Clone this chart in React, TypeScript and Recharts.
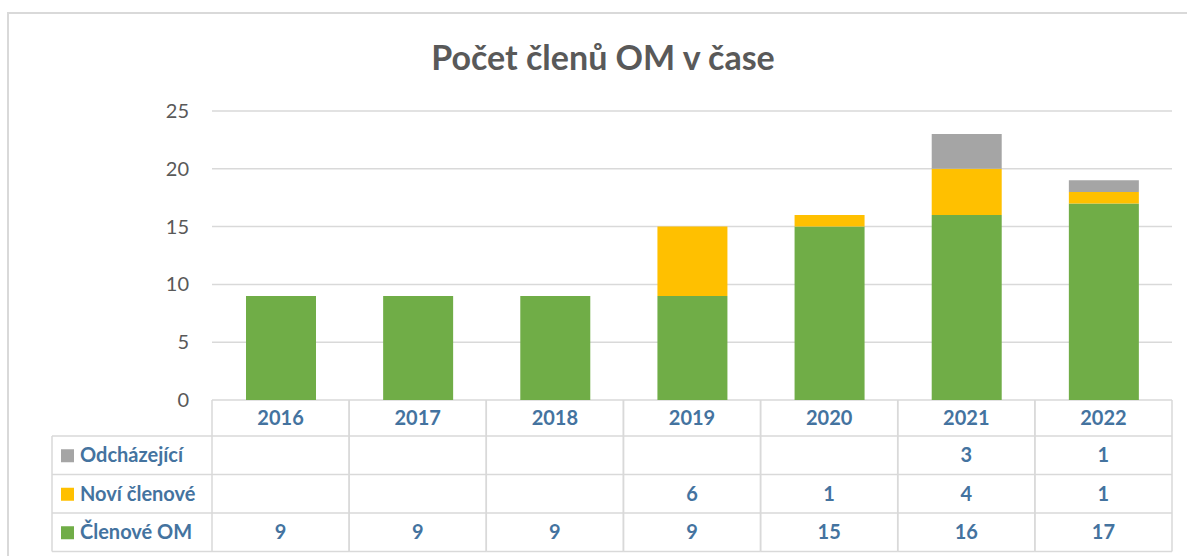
import { BarChart, Bar, XAxis, YAxis, CartesianGrid, Customized } from 'recharts';

const years = ['2016', '2017', '2018', '2019', '2020', '2021', '2022'];
const clenove = [9, 9, 9, 9, 15, 16, 17];
const novi = [null, null, null, 6, 1, 4, 1];
const odchazejici = [null, null, null, null, null, 3, 1];
const yTicks = [0, 5, 10, 15, 20, 25];

const series = [
  { key: 'odchazejici', label: 'Odcházející', color: '#a5a5a5', values: odchazejici },
  { key: 'novi', label: 'Noví členové', color: '#ffc000', values: novi },
  { key: 'clenove', label: 'Členové OM', color: '#70ad47', values: clenove },
];

const data = years.map((year, i) => ({
  year,
  clenove: clenove[i],
  novi: novi[i],
  odchazejici: odchazejici[i],
}));

const W = 1187;
const H = 556;
const PLOT_LEFT = 212;
const PLOT_RIGHT = 1172;
const PLOT_TOP = 111;
const PLOT_BOTTOM = 400;
const HEADER_H = 36;
const ROW_H = 38.5;
const LEGEND_LEFT = 52;
const GRID = '#d9d9d9';
const BLUE = '#44739f';
const FONT = 'Lato, "Open Sans", sans-serif';

const colW = (PLOT_RIGHT - PLOT_LEFT) / years.length;

function TableColumn(props: any) {
  const { payload, index } = props;
  const cx = payload.coordinate;
  const left = cx - colW / 2;
  const right = cx + colW / 2;
  const top = PLOT_BOTTOM;
  const bottom = top + HEADER_H + ROW_H * series.length;
  return (
    <g>
      <line x1={left} x2={left} y1={top} y2={bottom} stroke={GRID} strokeWidth={1.5} />
      <line x1={right} x2={right} y1={top} y2={bottom} stroke={GRID} strokeWidth={1.5} />
      <text x={cx} y={top + HEADER_H / 2 + 7} textAnchor="middle" fill={BLUE} fontSize={20} fontWeight={700} fontFamily={FONT}>
        {payload.value}
      </text>
      {series.map((s, r) => {
        const rt = top + HEADER_H + r * ROW_H;
        const v = s.values[index];
        return (
          <g key={s.key}>
            <line x1={left} x2={right} y1={rt} y2={rt} stroke={GRID} strokeWidth={1.5} />
            {v != null && (
              <text x={cx} y={rt + ROW_H / 2 + 7} textAnchor="middle" fill={BLUE} fontSize={20} fontWeight={700} fontFamily={FONT}>
                {v}
              </text>
            )}
          </g>
        );
      })}
      <line x1={left} x2={right} y1={bottom} y2={bottom} stroke={GRID} strokeWidth={1.5} />
    </g>
  );
}

function LegendColumn() {
  const top = PLOT_BOTTOM + HEADER_H;
  const bottom = top + ROW_H * series.length;
  return (
    <g>
      <line x1={LEGEND_LEFT} x2={LEGEND_LEFT} y1={top} y2={bottom} stroke={GRID} strokeWidth={1.5} />
      {series.map((s, r) => {
        const rt = top + r * ROW_H;
        return (
          <g key={s.key}>
            <line x1={LEGEND_LEFT} x2={PLOT_LEFT} y1={rt} y2={rt} stroke={GRID} strokeWidth={1.5} />
            <rect x={LEGEND_LEFT + 9} y={rt + ROW_H / 2 - 6} width={13} height={13} fill={s.color} />
            <text x={LEGEND_LEFT + 28} y={rt + ROW_H / 2 + 7} fill={BLUE} fontSize={20} fontWeight={700} fontFamily={FONT}>
              {s.label}
            </text>
          </g>
        );
      })}
      <line x1={LEGEND_LEFT} x2={PLOT_LEFT} y1={bottom} y2={bottom} stroke={GRID} strokeWidth={1.5} />
    </g>
  );
}

function YTick(props: any) {
  const { y, payload } = props;
  return (
    <text x={PLOT_LEFT - 23} y={y + 7} textAnchor="end" fill="#595959" fontSize={20} fontFamily={FONT}>
      {payload.value}
    </text>
  );
}

export default function App() {
  return (
    <div style={{ position: 'absolute', left: 0, top: 0, width: W, height: H, background: '#fff', overflow: 'hidden' }}>
      <div
        style={{
          position: 'absolute',
          left: 7,
          top: 12,
          width: W,
          height: H,
          border: `2px solid ${GRID}`,
          boxSizing: 'border-box',
        }}
      />
      <div
        style={{
          position: 'absolute',
          left: 0,
          top: 36,
          width: 1206,
          textAlign: 'center',
          fontFamily: FONT,
          fontWeight: 700,
          fontSize: 34,
          color: '#595959',
        }}
      >
        Počet členů OM v čase
      </div>
      <div style={{ position: 'absolute', left: 0, top: 0 }}>
        <BarChart
          width={W}
          height={H}
          data={data}
          margin={{ top: PLOT_TOP, right: W - PLOT_RIGHT, bottom: 0, left: 0 }}
          barSize={70}
        >
          <CartesianGrid vertical={false} stroke={GRID} strokeWidth={1.5} />
          <YAxis
            width={PLOT_LEFT}
            domain={[0, 25]}
            ticks={yTicks}
            axisLine={false}
            tickLine={false}
            tick={<YTick />}
          />
          <XAxis
            dataKey="year"
            height={H - PLOT_BOTTOM}
            axisLine={false}
            tickLine={false}
            interval={0}
            tick={<TableColumn />}
          />
          <Bar dataKey="clenove" stackId="a" fill="#70ad47" isAnimationActive={false} />
          <Bar dataKey="novi" stackId="a" fill="#ffc000" isAnimationActive={false} />
          <Bar dataKey="odchazejici" stackId="a" fill="#a5a5a5" isAnimationActive={false} />
          <Customized component={<LegendColumn />} />
        </BarChart>
      </div>
    </div>
  );
}
